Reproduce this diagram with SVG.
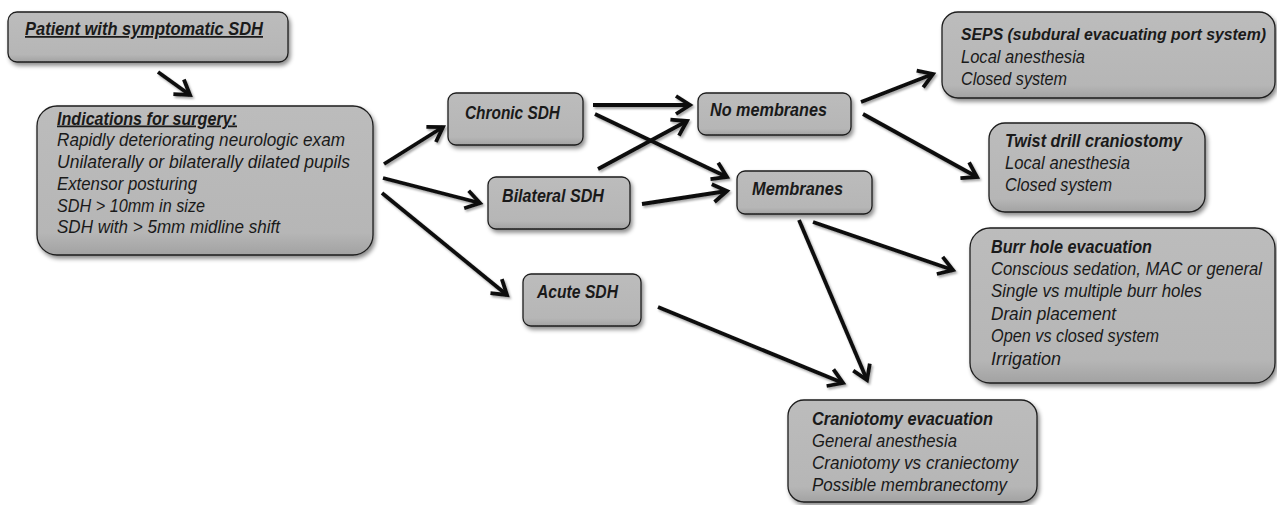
<svg xmlns="http://www.w3.org/2000/svg" width="1277" height="505" viewBox="0 0 1277 505">
<defs>
<linearGradient id="g" x1="0" y1="0" x2="0" y2="1">
<stop offset="0" stop-color="#bcbcbc"/>
<stop offset="0.85" stop-color="#b6b6b6"/>
<stop offset="1" stop-color="#a2a2a2"/>
</linearGradient>
<filter id="sh" x="-10%" y="-10%" width="125%" height="130%">
<feDropShadow dx="2" dy="3" stdDeviation="2" flood-color="#000" flood-opacity="0.45"/>
</filter>
<filter id="ash" x="-10%" y="-10%" width="130%" height="130%">
<feDropShadow dx="1.5" dy="2" stdDeviation="1.2" flood-color="#000" flood-opacity="0.35"/>
</filter>
<marker id="ah" markerUnits="userSpaceOnUse" viewBox="-16 -12 20 24" refX="0" refY="0" markerWidth="20" markerHeight="24" orient="auto" overflow="visible">
<path d="M-14,-9 L0,0 L-14,9" fill="none" stroke="#111" stroke-width="3.8" stroke-linecap="butt" stroke-linejoin="miter"/>
</marker>
</defs>
<style>
.box{fill:url(#g);stroke:#1e1e1e;stroke-width:1.3;filter:url(#sh);}
text{font-family:"Liberation Sans",Arial,sans-serif;font-size:17.5px;font-style:italic;fill:#1a1a1a;}
.b{font-weight:bold;}
.u{text-decoration:underline;}
.sm{font-size:15.8px;}
.c line{stroke:#111;stroke-width:3.8;marker-end:url(#ah);}
</style>

<g id="connectors" class="c" filter="url(#ash)">
<line x1="158" y1="72" x2="190" y2="95"/>
<line x1="384" y1="164" x2="443" y2="127"/>
<line x1="383" y1="178" x2="480" y2="203"/>
<line x1="382" y1="193" x2="507" y2="295"/>
<line x1="593" y1="105" x2="690" y2="105"/>
<line x1="595" y1="114" x2="727" y2="177"/>
<line x1="598" y1="169" x2="687" y2="121"/>
<line x1="642" y1="204" x2="727" y2="191"/>
<line x1="861" y1="102" x2="933" y2="74"/>
<line x1="863" y1="114" x2="977" y2="177"/>
<line x1="813" y1="222" x2="953" y2="270"/>
<line x1="799" y1="220" x2="867" y2="380"/>
<line x1="658" y1="307" x2="843" y2="383"/>
</g>

<g id="patient">
<rect class="box" x="8" y="12" width="280" height="50" rx="9"/>
<text x="25" y="35" class="b u" textLength="238" lengthAdjust="spacingAndGlyphs">Patient with symptomatic SDH</text>
</g>

<g id="indications">
<rect class="box" x="37" y="106" width="336" height="149" rx="20"/>
<text x="57" y="124.5" class="b u" textLength="180" lengthAdjust="spacingAndGlyphs">Indications for surgery:</text>
<text x="57" y="146" textLength="288" lengthAdjust="spacingAndGlyphs">Rapidly deteriorating neurologic exam</text>
<text x="57" y="168" textLength="293" lengthAdjust="spacingAndGlyphs">Unilaterally or bilaterally dilated pupils</text>
<text x="57" y="190" textLength="140" lengthAdjust="spacingAndGlyphs">Extensor posturing</text>
<text x="57" y="211.5" textLength="148" lengthAdjust="spacingAndGlyphs">SDH &gt; 10mm in size</text>
<text x="57" y="233" textLength="223" lengthAdjust="spacingAndGlyphs">SDH with &gt; 5mm midline shift</text>
</g>

<g id="chronic">
<rect class="box" x="448" y="93" width="135" height="52" rx="8"/>
<text x="465" y="119" class="b" textLength="95" lengthAdjust="spacingAndGlyphs">Chronic SDH</text>
</g>

<g id="bilateral">
<rect class="box" x="488" y="177" width="142" height="52" rx="8"/>
<text x="502" y="202" class="b" textLength="102" lengthAdjust="spacingAndGlyphs">Bilateral SDH</text>
</g>

<g id="acute">
<rect class="box" x="523" y="274" width="118" height="52" rx="8"/>
<text x="537" y="298" class="b" textLength="81" lengthAdjust="spacingAndGlyphs">Acute SDH</text>
</g>

<g id="no-membranes">
<rect class="box" x="698" y="93" width="153" height="42" rx="8"/>
<text x="710" y="116" class="b" textLength="117" lengthAdjust="spacingAndGlyphs">No membranes</text>
</g>

<g id="membranes">
<rect class="box" x="737" y="171" width="135" height="43" rx="8"/>
<text x="752" y="195" class="b" textLength="91" lengthAdjust="spacingAndGlyphs">Membranes</text>
</g>

<g id="seps">
<rect class="box" x="942" y="12" width="333" height="86" rx="16"/>
<text x="961" y="40" class="b sm" textLength="305" lengthAdjust="spacingAndGlyphs">SEPS (subdural evacuating port system)</text>
<text x="961" y="63" textLength="124" lengthAdjust="spacingAndGlyphs">Local anesthesia</text>
<text x="961" y="85" textLength="106" lengthAdjust="spacingAndGlyphs">Closed system</text>
</g>

<g id="twist">
<rect class="box" x="989" y="123" width="216" height="89" rx="16"/>
<text x="1005" y="147" class="b" textLength="177" lengthAdjust="spacingAndGlyphs">Twist drill craniostomy</text>
<text x="1005" y="169" textLength="125" lengthAdjust="spacingAndGlyphs">Local anesthesia</text>
<text x="1005" y="191" textLength="107" lengthAdjust="spacingAndGlyphs">Closed system</text>
</g>

<g id="burr">
<rect class="box" x="970" y="228" width="305" height="155" rx="20"/>
<text x="991" y="253" class="b" textLength="161" lengthAdjust="spacingAndGlyphs">Burr hole evacuation</text>
<text x="991" y="275" textLength="271" lengthAdjust="spacingAndGlyphs">Conscious sedation, MAC or general</text>
<text x="991" y="297" textLength="211" lengthAdjust="spacingAndGlyphs">Single vs multiple burr holes</text>
<text x="991" y="320" textLength="125" lengthAdjust="spacingAndGlyphs">Drain placement</text>
<text x="991" y="342" textLength="168" lengthAdjust="spacingAndGlyphs">Open vs closed system</text>
<text x="991" y="365" textLength="70" lengthAdjust="spacingAndGlyphs">Irrigation</text>
</g>

<g id="craniotomy">
<rect class="box" x="788" y="400" width="249" height="102" rx="16"/>
<text x="812" y="425" class="b" textLength="181" lengthAdjust="spacingAndGlyphs">Craniotomy evacuation</text>
<text x="812" y="447" textLength="145" lengthAdjust="spacingAndGlyphs">General anesthesia</text>
<text x="812" y="469" textLength="206" lengthAdjust="spacingAndGlyphs">Craniotomy vs craniectomy</text>
<text x="812" y="491" textLength="195" lengthAdjust="spacingAndGlyphs">Possible membranectomy</text>
</g>
</svg>
